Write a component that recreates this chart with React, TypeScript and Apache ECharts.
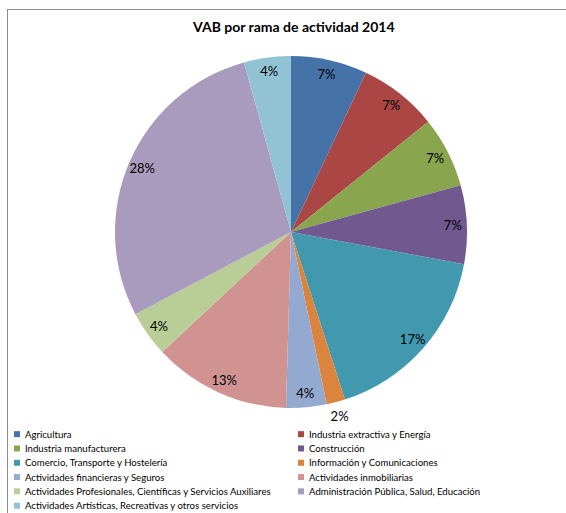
import React, { useEffect, useRef } from "react";
import * as echarts from "echarts";

const categories = [
  "Agricultura",
  "Industria extractiva y Energía",
  "Industria manufacturera",
  "Construcción",
  "Comercio, Transporte y Hostelería",
  "Información y Comunicaciones",
  "Actividades financieras y Seguros",
  "Actividades inmobiliarias",
  "Actividades Profesionales, Científicas y Servicios Auxiliares",
  "Administración Pública, Salud, Educación",
  "Actividades Artísticas, Recreativas y otros servicios",
];

const values = [7.0, 7.2, 6.5, 7.2, 17.1, 1.7, 3.7, 12.6, 4.2, 28.4, 4.3];

const colors = [
  "#4572A7",
  "#AA4643",
  "#89A54E",
  "#71588F",
  "#4198AF",
  "#DB843D",
  "#93A9CF",
  "#D19392",
  "#B9CD96",
  "#A99BBD",
  "#92C3D4",
];

const outsideLabelIndex = 5;

const font = "Lato, 'Open Sans', sans-serif";

export default function App() {
  const ref = useRef<HTMLDivElement>(null);

  useEffect(() => {
    if (!ref.current) return;
    const chart = echarts.init(ref.current, undefined, { renderer: "svg" });
    const total = values.reduce((a, b) => a + b, 0);
    const pct = (v: number) => Math.round((v / total) * 100) + "%";

    const baseData = categories.map((name, i) => ({
      name,
      value: values[i],
      itemStyle: { color: colors[i] },
    }));

    const leftNames = categories.filter((_, i) => i % 2 === 0);
    const rightNames = categories.filter((_, i) => i % 2 === 1);

    const legendCommon = {
      orient: "vertical" as const,
      top: 427,
      height: 100,
      padding: 0,
      itemWidth: 6,
      itemHeight: 6,
      itemGap: 0,
      itemTextGap: 2,
      icon: "rect",
      selectedMode: false,
      textStyle: {
        fontFamily: font,
        fontSize: 9.6,
        color: "#000",
        lineHeight: 14.3,
      },
    };

    const labelStyle = {
      show: true,
      position: "inside",
      fontFamily: font,
      fontSize: 13,
      color: "#000",
      formatter: (p: any) => pct(p.value),
    };

    chart.setOption({
      animation: false,
      backgroundColor: "#fff",
      color: colors,
      title: {
        text: "VAB por rama de actividad 2014",
        left: 188,
        top: 14,
        textStyle: {
          fontFamily: font,
          fontSize: 14,
          fontWeight: "bold",
          color: "#000",
        },
      },
      legend: [
        { ...legendCommon, left: 14, data: leftNames },
        { ...legendCommon, left: 298, data: rightNames },
      ],
      graphic: [
        {
          type: "line",
          shape: { x1: 7, y1: 9.5, x2: 566, y2: 9.5 },
          style: { stroke: "#8c8c8c", lineWidth: 1 },
          silent: true,
        },
        {
          type: "line",
          shape: { x1: 7.5, y1: 9, x2: 7.5, y2: 513 },
          style: { stroke: "#8c8c8c", lineWidth: 1 },
          silent: true,
        },
      ],
      series: [
        {
          type: "pie",
          center: [291, 232],
          radius: [0, 176],
          startAngle: 90,
          clockwise: true,
          silent: true,
          label: { show: false },
          labelLine: { show: false },
          itemStyle: { borderWidth: 0 },
          data: baseData,
        },
        {
          type: "pie",
          center: [291, 232],
          radius: [142, 176],
          startAngle: 90,
          clockwise: true,
          silent: true,
          legendHoverLink: false,
          itemStyle: { color: "rgba(0,0,0,0)", borderWidth: 0 },
          label: labelStyle,
          labelLine: { show: false },
          data: categories.map((name, i) => ({
            name,
            value: values[i],
            itemStyle: { color: "rgba(0,0,0,0)" },
            label: { show: i !== outsideLabelIndex },
          })),
        },
        {
          type: "pie",
          center: [291, 232],
          radius: [178, 197],
          startAngle: 90,
          clockwise: true,
          silent: true,
          legendHoverLink: false,
          itemStyle: { color: "rgba(0,0,0,0)", borderWidth: 0 },
          label: labelStyle,
          labelLine: { show: false },
          data: categories.map((name, i) => ({
            name,
            value: values[i],
            itemStyle: { color: "rgba(0,0,0,0)" },
            label: { show: i === outsideLabelIndex },
          })),
        },
      ],
    });

    return () => chart.dispose();
  }, []);

  return (
    <div
      ref={ref}
      style={{ position: "fixed", left: 0, top: 0, width: 566, height: 513 }}
    />
  );
}
